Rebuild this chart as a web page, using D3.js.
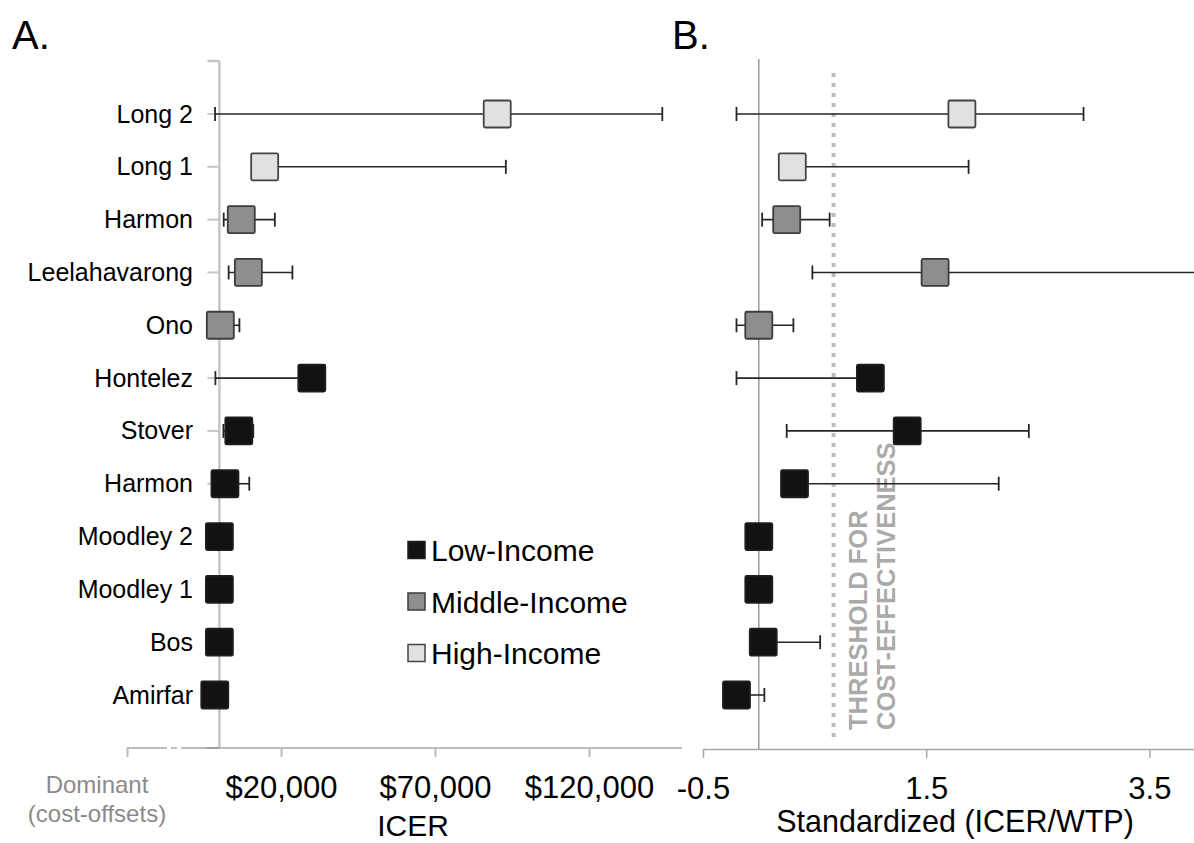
<!DOCTYPE html>
<html>
<head>
<meta charset="utf-8">
<script src="https://cdn.jsdelivr.net/npm/d3@7"></script>
<style>
  html, body { margin: 0; padding: 0; background: #fff; }
  svg { display: block; font-family: "Liberation Sans", Arial, Helvetica, sans-serif; }
</style>
</head>
<body>
<svg id="chart" width="1194" height="843"></svg>
<script>
// ---------------- DATA ----------------
const studies = ["Long 2", "Long 1", "Harmon", "Leelahavarong", "Ono", "Hontelez",
                 "Stover", "Harmon", "Moodley 2", "Moodley 1", "Bos", "Amirfar"];
const incomeGroup = ["High", "High", "Middle", "Middle", "Middle", "Low",
                     "Low", "Low", "Low", "Low", "Low", "Low"];
// Panel A: ICER in thousands of US$
const icerMid  = [90.2, 14.7, 7.1,  9.4,  0.3, 30.0, 6.3, 1.8, 0.0, 0.0, 0.0, -1.5];
const icerLow  = [-1.4, 14.7, 1.4,  3.0,  0.3, -1.3, 1.3, 1.8, 0.0, 0.0, 0.0, -1.5];
const icerHigh = [143.8, 93.0, 18.0, 23.7, 6.5, 30.0, 11.0, 9.7, 0.0, 0.0, 0.0, -1.5];
// Panel B: standardized ICER / WTP
const stdMid  = [1.82, 0.30, 0.25, 1.58, 0.00, 1.00, 1.33, 0.32, 0.00, 0.00, 0.04, -0.20];
const stdLow  = [-0.20, 0.30, 0.03, 0.48, -0.20, -0.20, 0.25, 0.32, 0.00, 0.00, 0.04, -0.20];
const stdHigh = [2.91, 1.88, 0.635, 4.30, 0.31, 1.00, 2.42, 2.15, 0.00, 0.00, 0.55, 0.05];
const thresholdValue = 0.67;
// Tick values / labels
const icerTicks = [20, 70, 120];
const icerTickLabels = ["$20,000", "$70,000", "$120,000"];
const dominantTick = -30;
const dominantLabel = ["Dominant", "(cost-offsets)"];
const stdTicks = [-0.5, 1.5, 3.5];
const stdTickLabels = ["-0.5", "1.5", "3.5"];
const legendGroups = ["Low", "Middle", "High"];
const legendLabels = ["Low-Income", "Middle-Income", "High-Income"];
const thresholdLabel = ["THRESHOLD FOR", "COST-EFFECTIVENESS"];

// ---------------- STYLE ----------------
const fillColor = { Low: "#121212", Middle: "#8e8e8e", High: "#e1e1e1" };
const strokeColor = { Low: "#1e1e1e", Middle: "#3c3c3c", High: "#444" };
const box = 27, capH = 14;

const svg = d3.select("#chart");

// ---------------- SCALES ----------------
const y = d3.scalePoint().domain(d3.range(studies.length)).range([114, 695]);
const xA = d3.scaleLinear().domain([-30, 150]).range([127, 681.4]);
const xB = d3.scaleLinear().domain([-0.5, 3.9]).range([703, 1194]);
const axisY = 748;

// Panel titles
svg.append("text").attr("x", 12).attr("y", 49).attr("font-size", 40).attr("fill", "#000").text("A.");
svg.append("text").attr("x", 672).attr("y", 49).attr("font-size", 40).attr("fill", "#000").text("B.");

// ---------------- PANEL A ----------------
const gA = svg.append("g");
gA.append("line").attr("x1", xA(0)).attr("x2", xA(0)).attr("y1", 61).attr("y2", axisY)
  .attr("stroke", "#c6c6c6").attr("stroke-width", 2.5);
gA.append("line").attr("x1", xA(0) - 12).attr("x2", xA(0)).attr("y1", 61).attr("y2", 61)
  .attr("stroke", "#c6c6c6").attr("stroke-width", 2.5);
gA.selectAll("line.rowtick").data(d3.range(studies.length)).join("line")
  .attr("class", "rowtick")
  .attr("x1", xA(0) - 12).attr("x2", xA(0))
  .attr("y1", i => y(i)).attr("y2", i => y(i))
  .attr("stroke", "#c6c6c6").attr("stroke-width", 2);

const axA = gA.append("g").attr("transform", `translate(0,${axisY})`)
  .call(d3.axisBottom(xA).tickValues([dominantTick].concat(icerTicks))
        .tickSize(9).tickFormat((d) => {
          const i = icerTicks.indexOf(d);
          return i >= 0 ? icerTickLabels[i] : "";
        }));
axA.select(".domain").remove();
axA.selectAll(".tick line").attr("stroke", "#bdbdbd").attr("stroke-width", 2);
axA.selectAll(".tick text").attr("y", 50).attr("dy", 0).attr("font-size", 31)
  .attr("fill", "#000").attr("font-family", "Liberation Sans, Arial, sans-serif");
const d0 = xA(dominantTick), z0 = xA(0);
[[d0, d0 + 40], [d0 + 44, d0 + 50], [d0 + 54, 682]].forEach(([a, b]) => {
  gA.append("line").attr("x1", a).attr("x2", b).attr("y1", axisY).attr("y2", axisY)
    .attr("stroke", "#bdbdbd").attr("stroke-width", 2);
});
gA.append("line").attr("x1", z0 - 13).attr("x2", z0).attr("y1", axisY).attr("y2", axisY)
  .attr("stroke", "#a0a0a0").attr("stroke-width", 2);
const domT = gA.append("text").attr("text-anchor", "middle").attr("font-size", 24).attr("fill", "#8a8a8a");
domT.append("tspan").attr("x", 97).attr("y", 793).text(dominantLabel[0]);
domT.append("tspan").attr("x", 97).attr("y", 822).text(dominantLabel[1]);
gA.append("text").attr("x", 413).attr("y", 836).attr("text-anchor", "middle")
  .attr("font-size", 30).attr("fill", "#000").text("ICER");

gA.selectAll("text.lab").data(studies).join("text")
  .attr("class", "lab")
  .attr("x", 193).attr("y", (d, i) => y(i) + 8.5)
  .attr("text-anchor", "end").attr("font-size", 25).attr("fill", "#000")
  .text(d => d);

function drawMarks(g, xs, mid, low, high) {
  const idx = d3.range(studies.length);
  g.selectAll("line.ci").data(idx.filter(i => low[i] !== high[i])).join("line")
    .attr("class", "ci")
    .attr("x1", i => xs(low[i])).attr("x2", i => xs(high[i]))
    .attr("y1", i => y(i)).attr("y2", i => y(i))
    .attr("stroke", "#262626").attr("stroke-width", 1.6);
  const caps = [];
  idx.forEach(i => {
    if (low[i] !== mid[i]) caps.push([i, low[i]]);
    if (high[i] !== mid[i]) caps.push([i, high[i]]);
  });
  g.selectAll("line.cap").data(caps).join("line")
    .attr("class", "cap")
    .attr("x1", d => xs(d[1])).attr("x2", d => xs(d[1]))
    .attr("y1", d => y(d[0]) - capH / 2).attr("y2", d => y(d[0]) + capH / 2)
    .attr("stroke", "#262626").attr("stroke-width", 1.8);
  g.selectAll("rect.pt").data(idx).join("rect")
    .attr("class", "pt")
    .attr("x", i => xs(mid[i]) - box / 2).attr("y", i => y(i) - box / 2)
    .attr("width", box).attr("height", box).attr("rx", 1.5)
    .attr("fill", i => fillColor[incomeGroup[i]])
    .attr("stroke", i => strokeColor[incomeGroup[i]]).attr("stroke-width", 1.8);
}
drawMarks(gA.append("g"), xA, icerMid, icerLow, icerHigh);

const lg = gA.append("g");
legendGroups.forEach((gname, k) => {
  const cy = 550 + k * 51.5;
  lg.append("rect").attr("x", 408).attr("y", cy - 8.5).attr("width", 17).attr("height", 17)
    .attr("fill", fillColor[gname]).attr("stroke", strokeColor[gname]).attr("stroke-width", 1.5);
  lg.append("text").attr("x", 431).attr("y", cy + 11).attr("font-size", 30).attr("fill", "#000")
    .text(legendLabels[k]);
});

// ---------------- PANEL B ----------------
const gB = svg.append("g");
gB.append("line").attr("x1", xB(0)).attr("x2", xB(0)).attr("y1", 59).attr("y2", axisY + 1)
  .attr("stroke", "#9a9a9a").attr("stroke-width", 1.5);
gB.append("line").attr("x1", xB(thresholdValue)).attr("x2", xB(thresholdValue))
  .attr("y1", 73).attr("y2", 740)
  .attr("stroke", "#bbbbbb").attr("stroke-width", 4).attr("stroke-dasharray", "4,6");
const thT = gB.append("g").attr("font-size", 25.5).attr("font-weight", "bold").attr("fill", "#aaaaaa");
thT.append("text").attr("transform", `translate(${xB(thresholdValue) + 33},730) rotate(-90)`)
  .text(thresholdLabel[0]);
thT.append("text").attr("transform", `translate(${xB(thresholdValue) + 61},730) rotate(-90)`)
  .text(thresholdLabel[1]);

const axB = gB.append("g").attr("transform", `translate(0,${axisY + 1})`)
  .call(d3.axisBottom(xB).tickValues(stdTicks).tickSize(9).tickSizeOuter(0)
        .tickFormat(d => stdTickLabels[stdTicks.indexOf(d)]));
axB.select(".domain").attr("stroke", "#a8a8a8").attr("stroke-width", 1.5);
axB.selectAll(".tick line").attr("stroke", "#a8a8a8").attr("stroke-width", 1.5);
axB.selectAll(".tick text").attr("y", 50).attr("dy", 0).attr("font-size", 31)
  .attr("fill", "#000").attr("font-family", "Liberation Sans, Arial, sans-serif");
gB.append("text").attr("x", 955).attr("y", 832).attr("text-anchor", "middle")
  .attr("font-size", 30.5).attr("fill", "#000").text("Standardized (ICER/WTP)");

drawMarks(gB.append("g"), xB, stdMid, stdLow, stdHigh);
</script>
</body>
</html>
